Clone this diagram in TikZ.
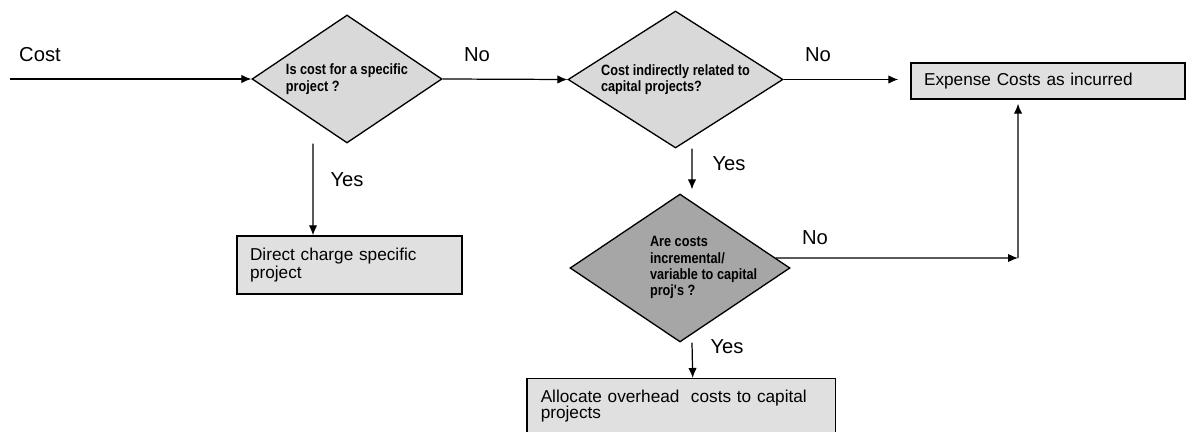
\documentclass[tikz,border=0pt]{standalone}
\usepackage{fontspec}
\setmainfont{Liberation Sans}
\newfontfamily\narrowfont[FakeStretch=0.85]{Liberation Sans}
\usetikzlibrary{shapes.geometric,%
	arrows.meta}
\definecolor{DecisionFill}{gray}{0.85}
\definecolor{DarkFill}{gray}{0.65}
\definecolor{BoxFill}{gray}{0.88}

\begin{document}
\begin{tikzpicture}[x=0.02cm,y=-0.02cm]
		\tikzstyle{DecisionStyle}=[draw,diamond,aspect=1.5,inner sep=0pt,line width=0.75pt,fill=DecisionFill,align=left,font=\narrowfont\bfseries\fontsize{8.5pt}{9.3pt}\selectfont]
		\tikzstyle{BoxStyle}=[draw,rectangle,line width=0.85pt,fill=BoxFill,align=left,inner ysep=0pt,font=\fontsize{9.8pt}{10.2pt}\selectfont]
		\tikzstyle{LabelStyle}=[inner sep=0pt,font=\fontsize{11.5pt}{13pt}\selectfont]
		\tikzstyle{EdgeStyle}=[line width=0.7pt,-{Latex[length=0.2cm,width=0.17cm]}]
		\useasboundingbox (0,0) rectangle (1186,432);
		\clip (0,0) rectangle (1186,432);
		% decisions
		\coordinate (in) at (10,79);
		\node[DecisionStyle,minimum width=3.8cm,minimum height=2.56cm] (specific) at (347,79) {Is cost for a specific\\project ?};
		\node[DecisionStyle,minimum width=4.3cm,minimum height=2.74cm] (indirect) at (675.5,79.5) {Cost indirectly related to\\capital projects?};
		\node[DecisionStyle,minimum width=4.4cm,minimum height=2.96cm,fill=DarkFill] (incremental) at (680,268) {\makebox[1.2cm][l]{\begin{tabular}{@{}l@{}}Are costs\\incremental/\\variable to capital\\proj's ?\end{tabular}}};
		% outcomes
		\node[BoxStyle,minimum height=1.16cm,text width=3.98cm,inner xsep=0.26cm] (direct) at (349.5,265) {Direct charge specific\\project};
		\node[BoxStyle,minimum height=0.72cm,text width=4.96cm,inner xsep=0.26cm] (expense) at (1048,81) {Expense Costs as incurred};
		\node[BoxStyle,anchor=north west,text width=5.62cm,inner xsep=0.28cm,inner ysep=0.22cm] (allocate) at (526,378) {Allocate overhead\ \ costs to capital\\[-1.2pt]projects\rule[-0.4cm]{0pt}{0pt}};
		% labels
		\node[LabelStyle] (cost) at (40,55) {Cost};
		\node[LabelStyle] (no1) at (477,55) {No};
		\node[LabelStyle] (no2) at (818,55) {No};
		\node[LabelStyle] (no3) at (815,238) {No};
		\node[LabelStyle] (yes1) at (347,180) {Yes};
		\node[LabelStyle] (yes2) at (729,164) {Yes};
		\node[LabelStyle] (yes3) at (727,347) {Yes};
		% arrows
		\coordinate (joint) at (1018,258);
		\draw[EdgeStyle] (in) -- (specific.west);
		\draw[EdgeStyle] (specific.east) -- (indirect.west);
		\draw[EdgeStyle,shorten >=0.24cm] (indirect.east) -- (indirect.east -| expense.west);
		\draw[EdgeStyle] ([xshift=-0.68cm]specific.south) -- ([xshift=-0.73cm]direct.north);
		\draw[EdgeStyle,shorten >=0.08cm] ([xshift=0.33cm]indirect.south) -- ([xshift=0.24cm]incremental.north);
		\draw[EdgeStyle] ([xshift=0.24cm]incremental.south) -- ([xshift=0.23cm]allocate.north);
		\draw[EdgeStyle] (incremental.6) -- (joint);
		\draw[EdgeStyle,shorten >=0.08cm] (joint) -- ([xshift=-0.6cm]expense.south);
\end{tikzpicture}
\end{document}
